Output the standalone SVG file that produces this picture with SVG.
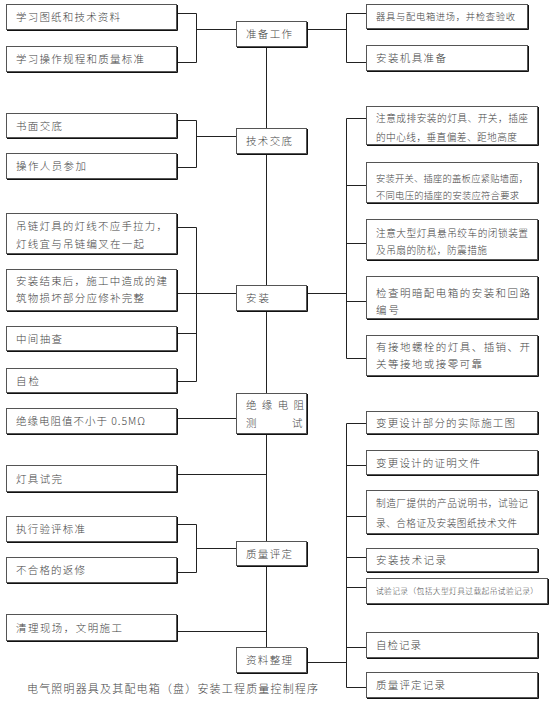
<svg xmlns="http://www.w3.org/2000/svg" width="553" height="713" viewBox="0 0 553 713">
<style>
.node rect{fill:#fff;stroke:#555;stroke-width:1}
.node path{fill:none;stroke:#111;stroke-width:1}
.node text{font-family:"Noto Sans CJK SC","Liberation Serif",sans-serif;font-size:10.5px;font-weight:300;fill:#444}
.s95 text{font-size:9.3px}
.s10 text{font-size:9.7px}
.s8 text{font-size:7.7px}
#connectors path{fill:none;stroke:#222;stroke-width:1}
.cap{font-family:"Noto Sans CJK SC","Liberation Serif",sans-serif;font-size:11px;font-weight:300;fill:#444}
</style>
<rect width="553" height="713" fill="#fff"/>
<g id="connectors">
<path d="M177,13.5H196.5V62.5H177M196.5,29.5H236"/>
<path d="M177,120.5H196.5V167.5H177M196.5,136.5H236"/>
<path d="M177,227.5H196.5V381.5H177M177,293.5H236M177,333.5H196.5"/>
<path d="M177,418.5H236"/>
<path d="M177,474.5H266.5"/>
<path d="M177,524.5H196.5V572.5H177M196.5,548.5H236"/>
<path d="M177,631.5H266.5"/>
<path d="M266.5,46V647"/>
<path d="M308,29.5H346.5M366,13.5H346.5V62.5H366"/>
<path d="M308,293.5H346.5M366,118.5H346.5V358.5H366M346.5,185.5H366M346.5,243.5H366M346.5,301.5H366"/>
<path d="M308,662.5H346.5M366,423.5H346.5V687.5H366M346.5,465.5H366M346.5,516.5H366M346.5,557.5H366M346.5,587.5H366M346.5,647.5H366"/>
</g>
<g id="n-prep" class="node"><rect x="236.5" y="21.5" width="70" height="25"/><path d="M307.5,22V47.5H237"/><text x="246" y="38" textLength="46">准备工作</text></g>
<g id="n-tech" class="node"><rect x="236.5" y="128.5" width="70" height="25"/><path d="M307.5,129V154.5H237"/><text x="246" y="145" textLength="46">技术交底</text></g>
<g id="n-install" class="node"><rect x="236.5" y="285.5" width="70" height="25"/><path d="M307.5,286V311.5H237"/><text x="246" y="302" textLength="23">安装</text></g>
<g id="n-insul" class="node"><rect x="236.5" y="393.5" width="70" height="40"/><path d="M307.5,394V434.5H237"/><text x="246" y="409" textLength="58">绝缘电阻</text><text x="246" y="427">测</text><text x="292" y="427">试</text></g>
<g id="n-quality" class="node"><rect x="236.5" y="541.5" width="70" height="24"/><path d="M307.5,542V566.5H237"/><text x="246" y="557.5" textLength="46">质量评定</text></g>
<g id="n-docs" class="node"><rect x="236.5" y="647.5" width="70" height="25"/><path d="M307.5,648V673.5H237"/><text x="246" y="664" textLength="46">资料整理</text></g>

<g id="l1" class="node"><rect x="6.5" y="4.5" width="170" height="25"/><path d="M177.5,5V30.5H7"/><text x="16" y="21" textLength="104">学习图纸和技术资料</text></g>
<g id="l2" class="node"><rect x="6.5" y="46.5" width="170" height="25"/><path d="M177.5,47V72.5H7"/><text x="16" y="63" textLength="128">学习操作规程和质量标准</text></g>
<g id="l3" class="node"><rect x="6.5" y="113.5" width="170" height="24"/><path d="M177.5,114V138.5H7"/><text x="16" y="129.5" textLength="46">书面交底</text></g>
<g id="l4" class="node"><rect x="6.5" y="153.5" width="170" height="25"/><path d="M177.5,154V179.5H7"/><text x="16" y="170" textLength="70">操作人员参加</text></g>
<g id="l5" class="node"><rect x="6.5" y="213.5" width="170" height="40"/><path d="M177.5,214V254.5H7"/><text x="16" y="230" textLength="151">吊链灯具的灯线不应手拉力，</text><text x="16" y="248" textLength="128">灯线宜与吊链编叉在一起</text></g>
<g id="l6" class="node"><rect x="6.5" y="269.5" width="170" height="41"/><path d="M177.5,270V311.5H7"/><text x="16" y="285" textLength="151">安装结束后，施工中造成的建</text><text x="16" y="302" textLength="128">筑物损坏部分应修补完整</text></g>
<g id="l7" class="node"><rect x="6.5" y="326.5" width="170" height="24"/><path d="M177.5,327V351.5H7"/><text x="16" y="342.5" textLength="46">中间抽查</text></g>
<g id="l8" class="node"><rect x="6.5" y="368.5" width="170" height="24"/><path d="M177.5,369V393.5H7"/><text x="16" y="384.5" textLength="23">自检</text></g>
<g id="l9" class="node"><rect x="6.5" y="408.5" width="170" height="25"/><path d="M177.5,409V434.5H7"/><text x="16" y="425" textLength="129">绝缘电阻值不小于 0.5MΩ</text></g>
<g id="l10" class="node"><rect x="6.5" y="465.5" width="170" height="26"/><path d="M177.5,466V492.5H7"/><text x="16" y="482.5" textLength="46">灯具试完</text></g>
<g id="l11" class="node"><rect x="6.5" y="516.5" width="170" height="25"/><path d="M177.5,517V542.5H7"/><text x="16" y="533" textLength="69">执行验评标准</text></g>
<g id="l12" class="node"><rect x="6.5" y="557.5" width="170" height="25"/><path d="M177.5,558V583.5H7"/><text x="16" y="574" textLength="69">不合格的返修</text></g>
<g id="l13" class="node"><rect x="6.5" y="614.5" width="170" height="26"/><path d="M177.5,615V641.5H7"/><text x="16" y="631.5" textLength="106">清理现场，文明施工</text></g>

<g id="r1" class="node s95"><rect x="366.5" y="4.5" width="161" height="24"/><path d="M528.5,5V29.5H367"/><text x="376" y="20" textLength="139">器具与配电箱进场，并检查验收</text></g>
<g id="r2" class="node"><rect x="366.5" y="45.5" width="161" height="25"/><path d="M528.5,46V71.5H367"/><text x="376" y="62" textLength="70">安装机具准备</text></g>
<g id="r3" class="node s10"><rect x="366.5" y="106.5" width="171" height="38"/><path d="M538.5,107V145.5H367"/><text x="376" y="122" textLength="152">注意成排安装的灯具、开关，插座</text><text x="376" y="141" textLength="141">的中心线，垂直偏差、距地高度</text></g>
<g id="r4" class="node s95"><rect x="366.5" y="162.5" width="171" height="40"/><path d="M538.5,163V203.5H367"/><text x="376" y="182" textLength="152">安装开关、插座的盖板应紧贴墙面，</text><text x="376" y="199" textLength="143">不同电压的插座的安装应符合要求</text></g>
<g id="r5" class="node s10"><rect x="366.5" y="219.5" width="171" height="40"/><path d="M538.5,220V260.5H367"/><text x="376" y="237" textLength="152">注意大型灯具悬吊绞车的闭锁装置</text><text x="376" y="254" textLength="111">及吊扇的防松，防震措施</text></g>
<g id="r6" class="node"><rect x="366.5" y="276.5" width="171" height="42"/><path d="M538.5,277V319.5H367"/><text x="376" y="297" textLength="154">检查明暗配电箱的安装和回路</text><text x="376" y="314" textLength="23">编号</text></g>
<g id="r7" class="node"><rect x="366.5" y="335.5" width="171" height="40"/><path d="M538.5,336V376.5H367"/><text x="376" y="351" textLength="154">有接地螺栓的灯具、插销、开</text><text x="376" y="368" textLength="106">关等接地或接零可靠</text></g>
<g id="r8" class="node"><rect x="366.5" y="411.5" width="171" height="22"/><path d="M538.5,412V434.5H367"/><text x="376" y="426.5" textLength="139">变更设计部分的实际施工图</text></g>
<g id="r9" class="node"><rect x="366.5" y="450.5" width="171" height="24"/><path d="M538.5,451V475.5H367"/><text x="376" y="466.5" textLength="104">变更设计的证明文件</text></g>
<g id="r10" class="node s10"><rect x="366.5" y="490.5" width="171" height="43"/><path d="M538.5,491V534.5H367"/><text x="376" y="507" textLength="152">制造厂提供的产品说明书，试验记</text><text x="376" y="527" textLength="141">录、合格证及安装图纸技术文件</text></g>
<g id="r11" class="node"><rect x="366.5" y="548.5" width="171" height="23"/><path d="M538.5,549V572.5H367"/><text x="376" y="564" textLength="70">安装技术记录</text></g>
<g id="r12" class="node s8"><rect x="366.5" y="578.5" width="181" height="25"/><path d="M548.5,579V604.5H367"/><text x="376" y="593.5" textLength="162">试验记录（包括大型灯具过载起吊试验记录）</text></g>
<g id="r13" class="node"><rect x="366.5" y="632.5" width="171" height="25"/><path d="M538.5,633V658.5H367"/><text x="376" y="649" textLength="45">自检记录</text></g>
<g id="r14" class="node"><rect x="366.5" y="672.5" width="171" height="25"/><path d="M538.5,673V698.5H367"/><text x="376" y="689" textLength="69">质量评定记录</text></g>

<text class="cap" x="27" y="693" textLength="291">电气照明器具及其配电箱（盘）安装工程质量控制程序</text>
</svg>
